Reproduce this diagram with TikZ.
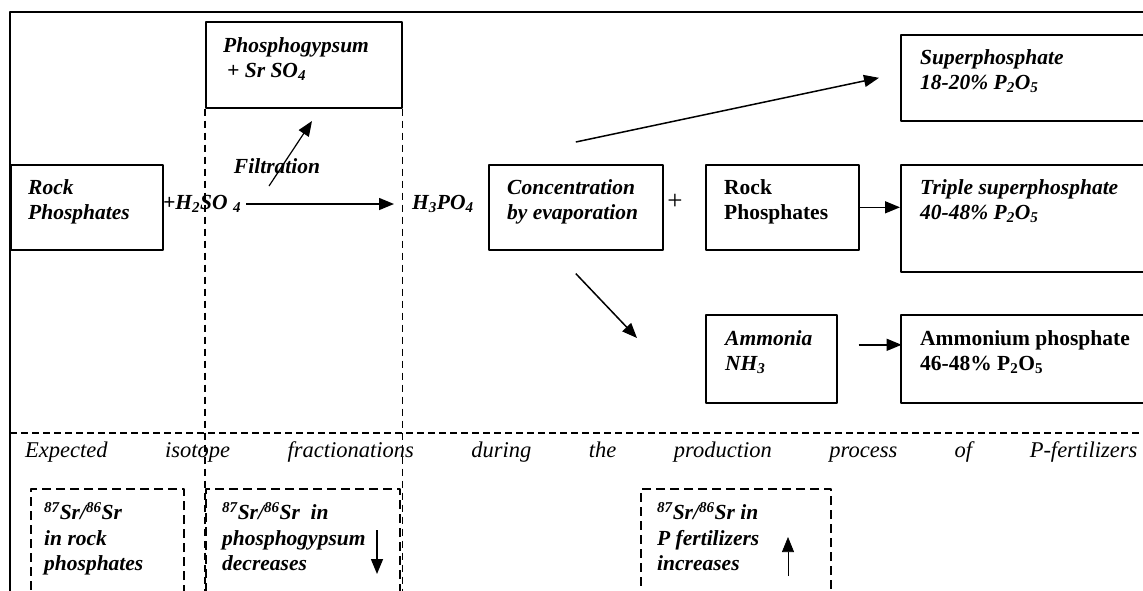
\documentclass[tikz,border=0pt]{standalone}
\usepackage{fontspec}
\setmainfont{Liberation Serif}
\usetikzlibrary{arrows.meta}
\tikzset{
  procbox/.style={draw, line width=1.6pt, anchor=north west, inner sep=0pt},
  isobox/.style={draw, line width=2pt, dash pattern=on 9pt off 5pt, anchor=north west, inner sep=0pt},
  guide/.style={line width=1.1pt, dash pattern=on 7pt off 5pt},
  bitext/.style={font=\fontsize{21.5}{25.5}\selectfont\bfseries\itshape, align=left, inner sep=0pt, anchor=north west},
  btext/.style={font=\fontsize{21.5}{25.5}\selectfont\bfseries, align=left, inner sep=0pt, anchor=north west},
  flow/.style={-{Triangle[length=15pt,width=12pt]}, line width=1.5pt},
}
\newcommand{\srratio}{\textsuperscript{87}Sr/\textsuperscript{86}Sr}
\newcommand{\pfive}{P\textsubscript{2}O\textsubscript{5}}

\begin{document}
\begin{tikzpicture}[x=1pt, y=-1pt, line join=round]
  \useasboundingbox (0,0) rectangle (1143,590);
  \clip (0,0) rectangle (1143,590);
  % frame
  \draw[line width=1.8pt] (1150,12) -- (10,12) -- (10,600);
  % process boxes
  \node[procbox, minimum width=196pt, minimum height=86pt] (pgyp) at (205,21) {};
  \node[procbox, minimum width=152pt, minimum height=85pt] (rock) at (10,164) {};
  \node[procbox, minimum width=174pt, minimum height=85pt] (conc) at (488,164) {};
  \node[procbox, minimum width=153pt, minimum height=85pt] (rock2) at (705,164) {};
  \node[procbox, minimum width=260pt, minimum height=86pt] (super) at (900,34) {};
  \node[procbox, minimum width=260pt, minimum height=107pt] (triple) at (900,164) {};
  \node[procbox, minimum width=131pt, minimum height=88pt] (amm) at (705,314) {};
  \node[procbox, minimum width=260pt, minimum height=88pt] (ammon) at (900,314) {};
  % box texts
  \node[bitext] (pgyp-t) at (223,37) {Phosphogypsum\\\hspace{4pt}+ Sr SO\textsubscript{4}};
  \node[bitext] (rock-t) at (28,179) {Rock\\Phosphates};
  \node[bitext] (conc-t) at (507,179) {Concentration\\by evaporation};
  \node[btext] (rock2-t) at (724,179) {Rock\\Phosphates};
  \node[bitext] (super-t) at (920,49) {Superphosphate\\18-20\% \pfive};
  \node[bitext] (triple-t) at (920,179) {Triple superphosphate\\40-48\% \pfive};
  \node[bitext] (amm-t) at (725,330) {Ammonia\\NH\textsubscript{3}};
  \node[btext] (ammon-t) at (920,330) {Ammonium phosphate\\46-48\% \pfive};
  % labels on the main line
  \node[bitext, anchor=west] (h2so4) at (163,204) {+H\textsubscript{2}SO \textsubscript{4}};
  \node[bitext, anchor=west] (h3po4) at (412,204) {H\textsubscript{3}PO\textsubscript{4}};
  \node[bitext, anchor=center] (filt) at (277,166) {Filtration};
  \node[font=\fontsize{27}{27}\selectfont, inner sep=0pt] (plus) at (675,202) {+};
  % connectors
  \draw[flow, shorten <=5pt, shorten >=18pt] (h2so4.east) -- (h3po4.west);
  \coordinate (filt-s) at (269,186);
  \coordinate (filt-e) at (312,121);
  \draw[flow, line width=1.2pt] (filt-s) -- (filt-e);
  \draw[flow] ([yshift=22pt]conc.north) -- ([xshift=-21pt]super.west);
  \coordinate (amm-in) at (637,338);
  \draw[flow] ([yshift=-23pt]conc.south) -- (amm-in);
  \draw[flow] (rock2.east) -- (rock2.east -| triple.west);
  \draw[flow] ([shift={(21pt,14pt)}]amm.east) -- +(43pt,0pt);
  % separation lines
  \draw[guide] (pgyp.south west) -- ++(0,500);
  \draw[guide] (pgyp.south east) -- ++(0,500);
  \draw[line width=1.4pt, dash pattern=on 7pt off 4pt] (10,433) -- (1150,433);
  \node[font=\fontsize{22.5}{22.5}\selectfont\itshape, inner sep=0pt, anchor=west] (expect) at (25,452)
    {\makebox[1112pt][s]{Expected isotope fractionations during the production process of P-fertilizers}};
  % isotope boxes
  \node[isobox, minimum width=153pt, minimum height=120pt] (iso1) at (30,488) {};
  \node[isobox, minimum width=194pt, minimum height=120pt] (iso2) at (205,488) {};
  \node[isobox, minimum width=190pt, minimum height=120pt] (iso3) at (640,488) {};
  \node[bitext] (iso1-t) at (44,502) {\srratio\\in rock\\phosphates};
  \node[bitext] (iso2-t) at (222,502) {\srratio\ \ in\\phosphogypsum\\decreases};
  \node[bitext] (iso3-t) at (657,502) {\srratio\ in\\P fertilizers\\increases};
  \coordinate (down-s) at (377,530);
  \coordinate (down-e) at (377,574);
  \draw[flow] (down-s) -- (down-e);
  \coordinate (up-s) at (788,576);
  \coordinate (up-e) at (788,537);
  \draw[flow, line width=0.7pt] (up-s) -- (up-e);
\end{tikzpicture}
\end{document}
